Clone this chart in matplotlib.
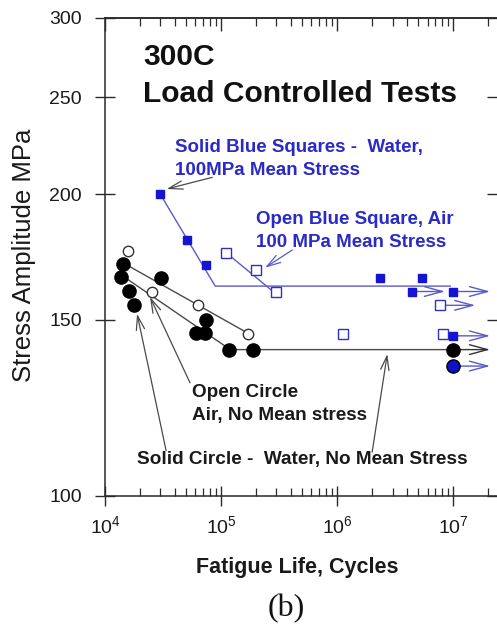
import matplotlib
matplotlib.use('Agg')
import matplotlib.pyplot as plt
from matplotlib.ticker import FixedLocator, NullLocator, LogLocator, NullFormatter

plt.rcParams['font.family'] = ['Liberation Sans', 'DejaVu Sans']
plt.rcParams['mathtext.fontset'] = 'custom'
plt.rcParams['mathtext.rm'] = 'Liberation Sans'
plt.rcParams['mathtext.it'] = 'Liberation Sans:italic'
plt.rcParams['mathtext.bf'] = 'Liberation Sans:bold'

# ---------------- data ----------------
# Solid blue squares: water, 100 MPa mean stress
water_mean_N = [3.0e4, 5.1e4, 7.4e4, 2.35e6, 5.4e6, 4.4e6, 1.0e7, 1.0e7]
water_mean_S = [200, 180, 170, 165, 165, 160, 160, 144.5]
# Open blue squares: air, 100 MPa mean stress
air_mean_N = [1.1e5, 2.0e5, 3.0e5, 1.12e6, 7.7e6, 8.2e6]
air_mean_S = [175, 168, 160, 145, 155, 145]
# Solid black circles: water, no mean stress
water_N = [1.43e4, 1.37e4, 1.61e4, 1.78e4, 3.04e4, 7.4e4, 6.1e4, 7.3e4, 1.17e5, 1.89e5, 1.0e7]
water_S = [170.4, 165.4, 160.2, 155.1, 165, 150, 145.5, 145.5, 140, 140, 140]
# Blue filled circle (runout)
blue_circle_N = [1.0e7]
blue_circle_S = [134.8]
# Open circles: air, no mean stress
air_N = [1.58e4, 2.54e4, 6.3e4, 1.71e5]
air_S = [175.7, 160, 155, 145]

# Fit lines
fit_water_mean_N = [3.0e4, 8.9e4, 9.4e6]
fit_water_mean_S = [200, 162, 162]
fit_air_mean_N = [1.1e5, 3.2e5]
fit_air_mean_S = [175, 158]
fit_air_N = [1.55e4, 1.68e5]
fit_air_S = [170, 145.5]
fit_water_N = [1.4e4, 1.2e5, 1.0e7]
fit_water_S = [166, 140, 140]

# Runouts: start N, S, end N, colour key
runout_N = [4.4e6, 1.0e7, 7.7e6, 1.0e7, 1.0e7, 1.0e7]
runout_S = [160, 160, 155, 144.5, 140, 134.8]
runout_end = [8.5e6, 2.08e7, 1.55e7, 2.08e7, 2.08e7, 2.08e7]
runout_kind = ['b', 'b', 'b', 'b', 'k', 'b']

x_ticks = [1e4, 1e5, 1e6, 1e7]
x_tick_labels = ['$10^{4}$', '$10^{5}$', '$10^{6}$', '$10^{7}$']
y_ticks = [100, 150, 200, 250, 300]
y_tick_labels = ['100', '150', '200', '250', '300']

BLUE = '#1414d2'
BLUE_TXT = '#2a2ac6'
BLUE_LINE = '#5a5ac8'
GRAY = '#4a4a4a'
AX = '#2a2a2a'

W, H = 497, 626
fig = plt.figure(figsize=(W / 100, H / 100), dpi=100)
ax = fig.add_axes([105 / W, 130 / H, 392 / W, 478 / H])
ax.set_xscale('log')
ax.set_yscale('log')
ax.set_xlim(1e4, 10 ** (4 + 392 / 116.1))
ax.set_ylim(100, 300)

for s in ['left', 'bottom', 'top']:
    ax.spines[s].set_color(AX)
    ax.spines[s].set_linewidth(1.1)
ax.spines['right'].set_visible(False)

ax.xaxis.set_major_locator(FixedLocator(x_ticks))
ax.set_xticklabels(x_tick_labels)
ax.xaxis.set_minor_locator(LogLocator(base=10, subs=range(2, 10)))
ax.xaxis.set_minor_formatter(NullFormatter())
ax.yaxis.set_major_locator(FixedLocator(y_ticks))
ax.set_yticklabels(y_tick_labels)
ax.yaxis.set_minor_locator(NullLocator())

ax.tick_params(axis='both', which='major', direction='inout', length=15, width=1.0,
               color=AX, labelsize=14, labelcolor='#1a1a1a', pad=9,
               top=False, right=True)
ax.tick_params(axis='x', which='minor', direction='in', length=6, width=0.9,
               color=AX, top=False)
ax.tick_params(axis='x', which='major', pad=6)

# top axis: inward ticks only
sec = ax.secondary_xaxis('top')
sec.xaxis.set_major_locator(FixedLocator(x_ticks))
sec.xaxis.set_minor_locator(LogLocator(base=10, subs=range(2, 10)))
sec.xaxis.set_major_formatter(NullFormatter())
sec.xaxis.set_minor_formatter(NullFormatter())
sec.tick_params(which='major', direction='in', length=9, width=1.0, color=AX)
sec.tick_params(which='minor', direction='in', length=6, width=0.9, color=AX)
sec.spines['top'].set_color(AX)
sec.spines['top'].set_linewidth(1.1)

# fit lines
ax.plot(fit_water_mean_N, fit_water_mean_S, color=BLUE_LINE, lw=1.0, zorder=2)
ax.plot(fit_air_mean_N, fit_air_mean_S, color=BLUE_LINE, lw=1.0, zorder=2)
ax.plot(fit_air_N, fit_air_S, color=GRAY, lw=1.0, zorder=2)
ax.plot(fit_water_N, fit_water_S, color=GRAY, lw=1.0, zorder=2)

# runout arrows
for n0, s0, n1, k in zip(runout_N, runout_S, runout_end, runout_kind):
    c = BLUE_LINE if k == 'b' else '#333333'
    ax.annotate('', xy=(n1, s0), xytext=(n0, s0),
                arrowprops=dict(arrowstyle='->,head_length=1.3,head_width=0.35',
                                color=c, lw=1.0, shrinkA=0, shrinkB=0), zorder=2)

# markers
ax.plot(water_mean_N, water_mean_S, 's', color=BLUE, ms=5.5, mec=BLUE, ls='none', zorder=4)
ax.plot(air_mean_N, air_mean_S, 's', mfc='white', mec='#3030c8', mew=1.0, ms=7.5, ls='none', zorder=3)
ax.plot(water_N, water_S, 'o', color='black', ms=9.5, ls='none', zorder=4)
ax.plot(blue_circle_N, blue_circle_S, 'o', mfc='#1010c8', mec='black', mew=1.0, ms=9.5, ls='none', zorder=4)
ax.plot(air_N, air_S, 'o', mfc='white', mec='#333333', mew=1.0, ms=7.5, ls='none', zorder=3)

# annotation arrows (pointer lines)
ap = dict(arrowstyle='->,head_length=1.0,head_width=0.3', color=GRAY, lw=0.9,
          shrinkA=0, shrinkB=0)
ax.annotate('', xy=(3.4e4, 202.5), xytext=(8.4e4, 208), arrowprops=ap)
ax.annotate('', xy=(2.39e5, 169), xytext=(4.1e5, 176),
            arrowprops=dict(ap, color=BLUE_LINE))
ax.annotate('', xy=(2.44e4, 158), xytext=(5.4e4, 129.7), arrowprops=ap)
ax.annotate('', xy=(1.89e4, 152), xytext=(3.36e4, 111), arrowprops=ap)
ax.annotate('', xy=(2.7e6, 138.6), xytext=(2.0e6, 110.6), arrowprops=ap)

def ft(x, y, s, **kw):
    fig.text(x / W, 1 - y / H, s, va='baseline', **kw)

ft(143, 65, '300C', fontsize=21.6, fontweight='bold', color='#111111')
ft(143, 102, 'Load Controlled Tests', fontsize=21.6, fontweight='bold', color='#111111')
ft(175, 152, 'Solid Blue Squares -  Water,', fontsize=13.5, fontweight='bold', color=BLUE_TXT)
ft(175, 175, '100MPa Mean Stress', fontsize=13.5, fontweight='bold', color=BLUE_TXT)
ft(256, 224, 'Open Blue Square, Air', fontsize=13.5, fontweight='bold', color=BLUE_TXT)
ft(256, 247, '100 MPa Mean Stress', fontsize=13.5, fontweight='bold', color=BLUE_TXT)
ft(192, 397, 'Open Circle', fontsize=13.6, fontweight='bold', color='#1a1a1a')
ft(192, 420, 'Air, No Mean stress', fontsize=13.6, fontweight='bold', color='#1a1a1a')
ft(137, 464, 'Solid Circle -  Water, No Mean Stress', fontsize=13.7, fontweight='bold', color='#1a1a1a')

fig.text(24 / W, 1 - 255 / H, 'Stress Amplitude MPa', rotation=90, ha='center', va='center',
         fontsize=18.5, color='#1a1a1a')
ft(297, 573, 'Fatigue Life, Cycles', ha='center', fontsize=15.5, fontweight='bold', color='#1a1a1a')
fig.text(286 / W, 1 - 609 / H, '(b)', ha='center', va='center', fontsize=23,
         family=['Liberation Serif', 'DejaVu Serif'], color='#111111')

fig.savefig('out.png', dpi=100)
